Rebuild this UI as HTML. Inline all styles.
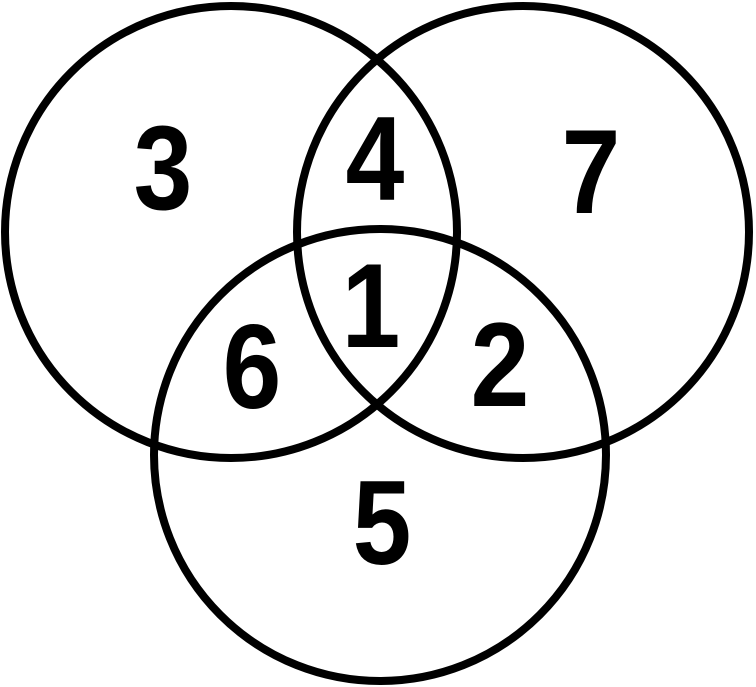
<!DOCTYPE html>
<html><head><style>html,body{margin:0;padding:0;background:#fff;}svg{display:block}
text{font-family:"Liberation Sans",Arial,sans-serif;font-weight:bold;font-size:120px;}</style></head>
<body>
<svg width="756" height="687" viewBox="0 0 756 687" xmlns="http://www.w3.org/2000/svg">
<g fill="none" stroke="#000" stroke-width="8">
<circle cx="231" cy="232" r="226"/>
<circle cx="523" cy="232" r="226"/>
<circle cx="380" cy="455" r="226"/>
</g>
<g text-anchor="middle" fill="#000">
<text transform="translate(163,209) scale(0.88,1)">3</text>
<text transform="translate(375,200) scale(0.88,1)">4</text>
<text transform="translate(591,213) scale(0.88,1)">7</text>
<text transform="translate(371,347) scale(0.88,1)">1</text>
<text transform="translate(252,408) scale(0.88,1)">6</text>
<text transform="translate(500,406) scale(0.88,1)">2</text>
<text transform="translate(382,564) scale(0.88,1)">5</text>
</g>
</svg>
</body></html>
